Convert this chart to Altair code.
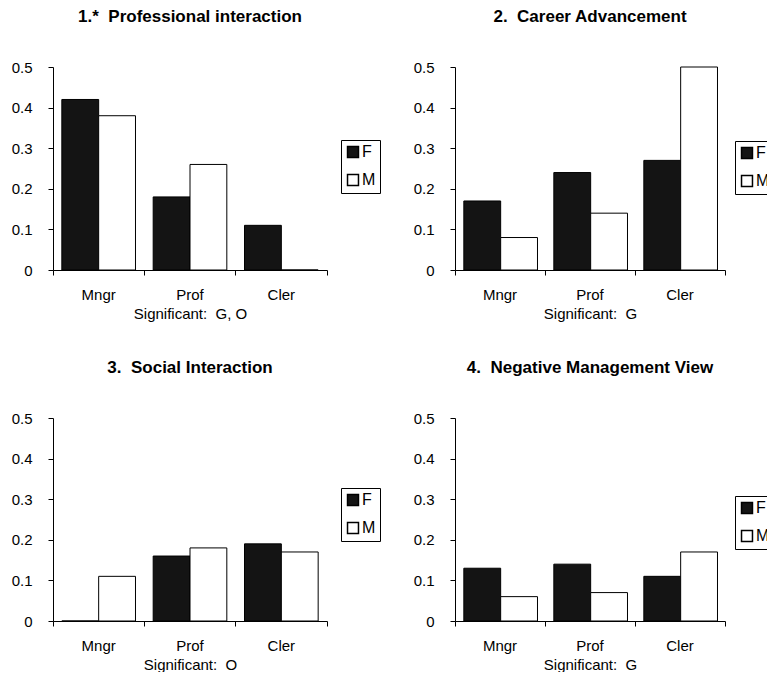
import altair as alt
import pandas as pd

categories = ["Mngr", "Prof", "Cler"]
groups = ["F", "M"]
titles = [
    "1.*\u00a0 Professional interaction",
    "2.\u00a0 Career Advancement",
    "3.\u00a0 Social Interaction",
    "4.\u00a0 Negative Management View",
]
notes = [
    "Significant:\u00a0 G, O",
    "Significant:\u00a0 G",
    "Significant:\u00a0 O",
    "Significant:\u00a0 G",
]
f_values = [
    [0.42, 0.18, 0.11],
    [0.17, 0.24, 0.27],
    [0.00, 0.16, 0.19],
    [0.13, 0.14, 0.11],
]
m_values = [
    [0.38, 0.26, 0.00],
    [0.08, 0.14, 0.50],
    [0.11, 0.18, 0.17],
    [0.06, 0.07, 0.17],
]
y_ticks = [0, 0.1, 0.2, 0.3, 0.4, 0.5]
fill_colors = ["#141414", "#ffffff"]

widths = [274, 270, 274, 270]
H = 203
FONT = "Liberation Sans"
legend_x_gap = [14, 10, 14, 10]
legend_y = [73, 74, 70, 78]


def panel(i):
    rows = []
    for c, fv, mv in zip(categories, f_values[i], m_values[i]):
        rows.append({"category": c, "group": "F", "value": fv})
        rows.append({"category": c, "group": "M", "value": mv})
    df = pd.DataFrame(rows)

    return (
        alt.Chart(df)
        .mark_bar(stroke="black", strokeWidth=1)
        .encode(
            x=alt.X(
                "category:N",
                sort=categories,
                scale=alt.Scale(domain=categories, paddingInner=0, paddingOuter=0),
                axis=alt.Axis(
                    title=notes[i],
                    labelAngle=0,
                    bandPosition=1,
                    tickExtra=True,
                    tickSize=5,
                    labelPadding=12,
                    titlePadding=4,
                    labelFontSize=15,
                    titleFontSize=15,
                    titleFontWeight="normal",
                ),
            ),
            xOffset=alt.XOffset(
                "group:N",
                scale=alt.Scale(domain=groups, paddingOuter=0.24, paddingInner=0),
            ),
            y=alt.Y(
                "value:Q",
                scale=alt.Scale(domain=[0, 0.5], nice=False),
                axis=alt.Axis(
                    values=y_ticks,
                    format=".1~f",
                    title=None,
                    tickSize=5,
                    labelPadding=16,
                    labelFontSize=15,
                ),
            ),
            color=alt.Color(
                "group:N",
                scale=alt.Scale(domain=groups, range=fill_colors),
                legend=alt.Legend(
                    title=None,
                    orient="none",
                    legendX=widths[i] + legend_x_gap[i],
                    legendY=legend_y[i],
                    symbolType="square",
                    symbolSize=120,
                    symbolStrokeColor="black",
                    symbolStrokeWidth=1.5,
                    labelFontSize=16,
                    labelOffset=1,
                    rowPadding=10,
                    padding=4,
                    strokeColor="black",
                ),
            ),
        )
        .properties(
            width=widths[i],
            height=H,
            title=alt.TitleParams(
                titles[i],
                fontSize=17,
                fontWeight="bold",
                anchor="middle",
                frame="group",
                offset=34,
            ),
        )
    )


row1 = alt.hconcat(panel(0), panel(1), spacing=32).resolve_legend(color="independent")
row2 = alt.hconcat(panel(2), panel(3), spacing=32).resolve_legend(color="independent")
chart = (
    alt.vconcat(row1, row2, spacing=38)
    .resolve_legend(color="independent")
    .properties(padding={"left": 3, "top": 0, "right": -8, "bottom": 0})
    .configure(font=FONT)
    .configure_view(strokeWidth=0, stroke="transparent")
    .configure_axis(
        domainColor="black",
        tickColor="black",
        labelColor="black",
        titleColor="black",
        grid=False,
        labelFont=FONT,
        titleFont=FONT,
    )
    .configure_legend(labelFont=FONT, labelColor="black")
    .configure_title(font=FONT, color="black")
)

chart.save("out.html", embed_options={"renderer": "svg", "actions": False})
